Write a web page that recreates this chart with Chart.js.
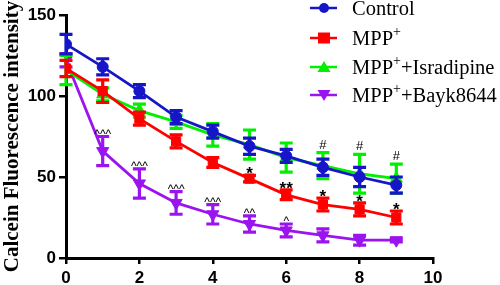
<!DOCTYPE html>
<html>
<head>
<meta charset="utf-8">
<script src="https://cdn.jsdelivr.net/npm/chart.js@4"></script>
<style>
  html, body { margin: 0; padding: 0; background: #fff; }
  #wrap { width: 500px; height: 285px; }
</style>
</head>
<body>
<div id="wrap"><canvas id="calceinChart"></canvas></div>
<script>
// Time points and series
const xVals = [0, 1, 2, 3, 4, 5, 6, 7, 8, 9];
const control = [132, 118, 103, 87, 78, 69, 63, 56, 50, 45];
const controlErr = [6, 5, 4, 4, 4, 5, 4, 5, 6, 5];
const mpp = [117, 103, 86, 72, 59, 49, 39, 33, 30, 25];
const mppErr = [5, 7, 4, 4, 3, 2, 3, 4, 4, 4];
const isr = [116, 101, 91, 84, 76, 70, 62, 57, 52, 49];
const isrErr = [9, 4, 4, 4, 7, 9, 9, 8, 12, 9];
const bayk = [122, 66, 46, 34, 27, 21, 17, 14, 11, 11];
const baykErr = [4, 9, 9, 7, 6, 5, 4, 4, 3, 1];

// significance marks above the error bars
const mppMarks = ['', '', '', '', '', '*', '**', '*', '*', '*'];
const isrMarks = ['', '', '', '', '', '', '', '#', '#', '#'];
const baykMarks = ['', '^^^', '^^^', '^^^', '^^^', '^^', '^', '', '', ''];

const colors = ['#1616c8', '#ff0000', '#00f000', '#9b14f0'];
const names = [['Control', ''], ['MPP', ''], ['MPP', 'Isradipine'], ['MPP', 'Bayk8644']];

function pts(vals) {
    return xVals.map((x, i) => ({ x: x, y: vals[i] }));
}

function makeSet(label, vals, errs, marks, color, style, rot, r) {
    return {
        label: label,
        data: pts(vals),
        errs: errs,
        marks: marks,
        borderColor: color,
        backgroundColor: color,
        borderWidth: 2.8,
        pointStyle: style,
        pointRotation: rot,
        pointRadius: r,
        pointBorderWidth: 1,
        tension: 0
    };
}

const datasets = [
    makeSet('Control', control, controlErr, null, colors[0], 'circle', 0, 5.5),
    makeSet('MPP+', mpp, mppErr, mppMarks, colors[1], 'rect', 0, 6.5),
    makeSet('MPP+ +Isradipine', isr, isrErr, isrMarks, colors[2], 'triangle', 0, 7),
    makeSet('MPP+ +Bayk8644', bayk, baykErr, baykMarks, colors[3], 'triangle', 180, 7)
];

// error bars, drawn with each dataset
const errorBars = {
    id: 'errorBars',
    beforeDatasetDraw(chart, args) {
        const ds = chart.data.datasets[args.index];
        const xs = chart.scales.x, ys = chart.scales.y;
        const ctx = chart.ctx;
        ctx.save();
        ctx.strokeStyle = ds.borderColor;
        ctx.lineWidth = 3.2;
        ds.data.forEach((p, i) => {
            const px = xs.getPixelForValue(p.x);
            const top = ys.getPixelForValue(p.y + ds.errs[i]);
            const bot = ys.getPixelForValue(p.y - ds.errs[i]);
            ctx.beginPath();
            ctx.moveTo(px, top); ctx.lineTo(px, bot);
            ctx.moveTo(px - 6.5, top); ctx.lineTo(px + 6.5, top);
            ctx.moveTo(px - 6.5, bot); ctx.lineTo(px + 6.5, bot);
            ctx.stroke();
        });
        ctx.restore();
    },
    afterDatasetsDraw(chart) {
        const xs = chart.scales.x, ys = chart.scales.y;
        const ctx = chart.ctx;
        ctx.save();
        ctx.fillStyle = '#000';
        ctx.textAlign = 'center';
        ctx.textBaseline = 'alphabetic';
        chart.data.datasets.forEach(ds => {
            if (!ds.marks) return;
            ds.data.forEach((p, i) => {
                const m = ds.marks[i];
                if (!m) return;
                const px = xs.getPixelForValue(p.x);
                const top = ys.getPixelForValue(p.y + ds.errs[i]);
                if (m[0] === '*') {
                    ctx.font = 'bold 17px "Liberation Sans", Arial, sans-serif';
                    ctx.fillText(m, px, top + 4);
                } else if (m[0] === '#') {
                    ctx.font = '13px "Liberation Sans", Arial, sans-serif';
                    ctx.fillText(m, px, top - 4);
                } else {
                    ctx.font = '12px "Liberation Sans", Arial, sans-serif';
                    ctx.fillText(m, px, top + 1);
                }
            });
        });
        ctx.restore();
    }
};

function marker(ctx, kind, x, y, color) {
    ctx.fillStyle = color;
    ctx.beginPath();
    if (kind === 0) {
        ctx.arc(x, y, 5, 0, Math.PI * 2);
    } else if (kind === 1) {
        ctx.rect(x - 6, y - 5.5, 12, 11);
    } else if (kind === 2) {
        ctx.moveTo(x, y - 6); ctx.lineTo(x + 6.5, y + 5); ctx.lineTo(x - 6.5, y + 5);
    } else {
        ctx.moveTo(x, y + 6); ctx.lineTo(x + 6.5, y - 5); ctx.lineTo(x - 6.5, y - 5);
    }
    ctx.closePath();
    ctx.fill();
}

// legend in the top right corner, MPP with a superscript plus
const cornerLegend = {
    id: 'cornerLegend',
    afterDraw(chart) {
        const ctx = chart.ctx;
        const rows = [8, 38, 67, 95];
        ctx.save();
        ctx.textBaseline = 'middle';
        ctx.textAlign = 'left';
        names.forEach((nm, i) => {
            const y = rows[i];
            ctx.strokeStyle = colors[i];
            ctx.lineWidth = 2.5;
            ctx.beginPath();
            ctx.moveTo(310, y); ctx.lineTo(337, y);
            ctx.stroke();
            marker(ctx, i, 324, y, colors[i]);
            ctx.fillStyle = '#000';
            const big = '20.5px "Liberation Serif", "Times New Roman", serif';
            const small = '14px "Liberation Serif", "Times New Roman", serif';
            let tx = 352, ty = y + 2;
            ctx.font = big;
            ctx.fillText(nm[0], tx, ty);
            if (i === 0) return;
            tx += ctx.measureText(nm[0]).width;
            ctx.font = small;
            ctx.fillText('+', tx, ty - 8);
            tx += ctx.measureText('+').width;
            if (nm[1]) {
                ctx.font = big;
                ctx.fillText('+' + nm[1], tx, ty);
            }
        });
        ctx.restore();
    }
};

const tickFont = { family: '"Liberation Sans", Arial, sans-serif', size: 17, weight: 'bold' };

const config = {
    type: 'line',
    data: { datasets: datasets },
    options: {
        responsive: true,
        maintainAspectRatio: false,
        animation: false,
        layout: { padding: { left: 0, right: 67, top: 15, bottom: 0 } },
        plugins: {
            legend: { display: false },
            tooltip: { enabled: false }
        },
        scales: {
            x: {
                type: 'linear',
                min: 0,
                max: 10,
                ticks: { stepSize: 2, color: '#000', font: tickFont, padding: 4 },
                grid: { drawOnChartArea: false, drawTicks: true, tickLength: 6, color: '#000', lineWidth: 2.5 },
                border: { color: '#000', width: 3 },
                afterFit(scale) { scale.height = 27; }
            },
            y: {
                min: 0,
                max: 150,
                ticks: { stepSize: 50, color: '#000', font: tickFont, padding: 3 },
                grid: { drawOnChartArea: false, drawTicks: true, tickLength: 7, color: '#000', lineWidth: 2.5 },
                border: { color: '#000', width: 3 },
                title: {
                    display: true,
                    text: 'Calcein Fluorescence intensity',
                    color: '#000',
                    font: { family: '"Liberation Serif", "Times New Roman", serif', size: 21, weight: 'bold' },
                    padding: 0
                },
                afterFit(scale) { scale.width = 66; }
            }
        }
    },
    plugins: [errorBars, cornerLegend]
};

const calceinChart = new Chart(document.getElementById('calceinChart'), config);
</script>
</body>
</html>
